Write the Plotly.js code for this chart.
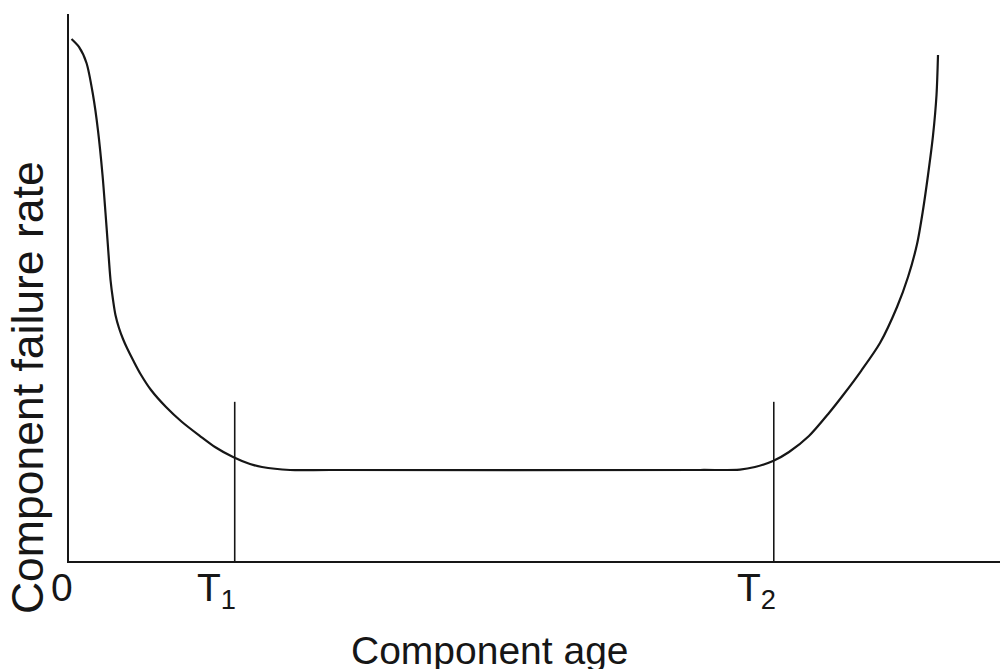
<!DOCTYPE html>
<html>
<head>
<meta charset="utf-8">
<script src="https://cdn.plot.ly/plotly-3.0.1.min.js"></script>
<style>html,body{margin:0;padding:0;background:#fff;}#chart{width:1000px;height:669px;}</style>
</head>
<body>
<div id="chart"></div>
<script>
// Bathtub curve: component failure rate vs component age (arbitrary units 0-100)
const ageValues = [0.27,1.07,1.88,2.58,3.11,3.60,3.92,4.19,4.46,4.73,4.99,5.37,5.80,6.23,6.93,7.68,8.81,10.42,12.14,14.07,15.68,17.62,19.44,20.73,23.74,28.03,67.78,72.07,73.68,75.62,77.34,79.48,81.63,83.24,85.07,87.11,88.94,90.12,91.09,91.73,92.27,92.80,93.18,93.34];
const rateValues = [95.43,93.97,91.04,85.19,78.79,70.57,63.62,57.40,51.37,47.71,44.97,42.60,40.59,38.94,36.56,34.19,31.26,28.15,25.41,22.85,20.84,19.01,17.73,17.18,16.64,16.64,16.64,16.71,17.18,18.28,19.93,22.85,27.06,30.53,34.73,39.85,46.44,51.92,57.95,64.17,70.57,77.70,85.19,92.50];
const markerAges = [17.8, 75.7];          // T1, T2
const markerHeight = 29.1;                // height of the T1/T2 marker lines
const tickPositions = [0, 17.8, 75.7];
const tickLabels = ['0', 'T<sub>1</sub>', 'T<sub>2</sub>'];
const xTitle = 'Component age';
const yTitle = 'Component failure rate';

const ink = '#161616';
const traces = [{
  x: ageValues, y: rateValues, type: 'scatter', mode: 'lines',
  line: {color: ink, width: 2.2, shape: 'spline', smoothing: 0.8},
  hoverinfo: 'skip', showlegend: false
}];
markerAges.forEach(a => traces.push({
  x: [a, a], y: [0, markerHeight], type: 'scatter', mode: 'lines',
  line: {color: ink, width: 1.6}, hoverinfo: 'skip', showlegend: false
}));

const font = '"Liberation Sans", Arial, sans-serif';
const annotations = tickPositions.map((p, i) => ({
  x: p, xref: 'x', y: 0, yref: 'paper', xanchor: 'right', yanchor: 'top',
  xshift: [6, 3, 4][i] , yshift: -3, showarrow: false, text: tickLabels[i],
  font: {family: font, size: 39, color: ink}
}));
annotations.push({
  x: 0.4517, xref: 'paper', y: -0.163, yref: 'paper', xanchor: 'center', yanchor: 'middle',
  showarrow: false, text: xTitle, font: {family: font, size: 39, color: ink}
});
annotations.push({
  x: -0.044, xref: 'paper', y: 0.3163, yref: 'paper', xanchor: 'center', yanchor: 'middle',
  textangle: -90, showarrow: false, text: yTitle, font: {family: font, size: 44.5, color: ink}
});

const layout = {
  width: 1000, height: 669,
  margin: {l: 69, r: 0, t: 14, b: 108},
  paper_bgcolor: '#ffffff', plot_bgcolor: '#ffffff',
  showlegend: false,
  xaxis: {range: [0, 100], showline: true, linecolor: ink, linewidth: 2,
          showgrid: false, zeroline: false, showticklabels: false, ticks: '', fixedrange: true},
  yaxis: {range: [0, 100], showline: true, linecolor: ink, linewidth: 2,
          showgrid: false, zeroline: false, showticklabels: false, ticks: '', fixedrange: true},
  annotations: annotations
};
Plotly.newPlot('chart', traces, layout, {displayModeBar: false, staticPlot: true});
</script>
</body>
</html>
